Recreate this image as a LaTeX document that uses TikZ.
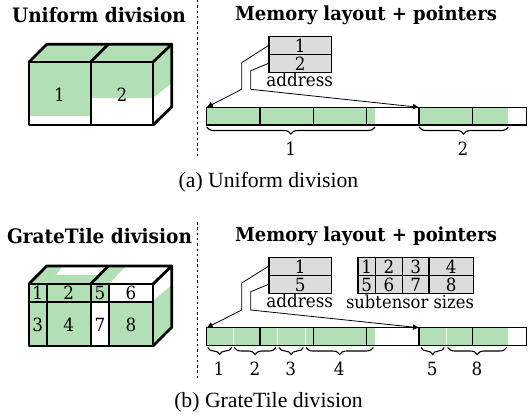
\documentclass[tikz,border=0pt]{standalone}
\usepackage{fontspec}
\setmainfont{Liberation Serif}
\newfontfamily\headfont{DejaVu Serif}[FakeStretch=0.93]
\newfontfamily\labfont{DejaVu Serif}[FakeStretch=0.92]
\usetikzlibrary{decorations.pathreplacing,arrows.meta,calc}
\definecolor{tilegreen}{HTML}{B3DFB5}
\definecolor{cellgray}{HTML}{DCDCDC}
\tikzset{
  x=1pt,y=-1pt,
  thick edge/.style={line width=2.8pt,line join=round,line cap=round},
  thin edge/.style={line width=1.7pt},
  mem edge/.style={line width=1.3pt},
  white tick/.style={white,line width=1pt},
  heading/.style={font=\headfont\bfseries\fontsize{19.9}{22}\selectfont,inner sep=0pt},
  memheading/.style={font=\headfont\bfseries\fontsize{19.3}{22}\selectfont,inner sep=0pt},
  lab/.style={font=\labfont\fontsize{18.2}{20}\selectfont,inner sep=0pt},
  sizelab/.style={font=\labfont\fontsize{17.8}{20}\selectfont,inner sep=0pt},
  caption/.style={font=\fontsize{21.7}{24}\selectfont,inner sep=0pt},
  sep line/.style={line width=1.5pt,dash pattern=on 2.5pt off 2.8pt},
  tcell/.style={draw,line width=1.2pt,fill=cellgray,inner sep=0pt,anchor=north west,font=\labfont\fontsize{18.2}{20}\selectfont},
  pointer/.style={line width=0.8pt,-{Latex[length=6pt,width=6pt]}},
  brace/.style={decorate,decoration={brace,mirror,amplitude=7pt},line width=1.1pt},
}
\newcommand{\tc}[6]{\node[tcell,minimum width=#4pt,minimum height=#5pt] (#1) at (#2,#3) {\raisebox{-6.6pt}[0pt][0pt]{#6}};}
\begin{document}
\begin{tikzpicture}
\useasboundingbox (0,0) rectangle (531,420);
% ===== (a)
\node[heading] (t1) at (99,15) {Uniform division};
\node[memheading] (t2) at (366,15) {Memory layout + pointers};
\coordinate (sa1) at (197.5,0); \coordinate (sa2) at (197.5,158);
\draw[sep line] (sa1) -- (sa2);
% cube a
\fill[tilegreen] (29,62) -- (46.7,44.3) -- (171.7,44.3) -- (153,62) -- cycle;
\fill[tilegreen] (29,62) rectangle (90.7,116);
\fill[tilegreen] (90.7,62) rectangle (153,98);
\fill[tilegreen] (153,62) -- (171.7,44.3) -- (171.7,83) -- (153,98) -- cycle;
\draw[thick edge] (29,62) rectangle (153,125);
\draw[thick edge] (29,62) -- (46.7,44.3) -- (171.7,44.3) -- (153,62);
\draw[thick edge] (171.7,44.3) -- (171.7,107) -- (153,125);
\draw[thick edge,line width=2.2pt] (90.7,62) -- (90.7,125);
\draw[thick edge] (90.7,62) -- (108.3,44.3);
\node[lab] (c1) at (59.5,95) {1};
\node[lab] (c2) at (122,95) {2};
% memory a
\fill[tilegreen] (206.7,107.3) rectangle (375,125);
\fill[tilegreen] (419,107.3) rectangle (508.3,125);
\draw[mem edge] (206.7,107.3) rectangle (526.7,125);
\foreach \x in {260,313.3,366.7,419,472.7} \draw[mem edge] (\x,107.3) -- (\x,125);
\coordinate (ma) at (206.7,107.3); \coordinate (mb) at (419,107.3);
\tc{aa}{268.3}{36}{62.7}{18}{1}
\tc{ab}{268.3}{54}{62.7}{17.7}{2}
\node[lab] (adra) at (299.7,80) {address};
\coordinate (p1) at (241.7,62.7); \coordinate (p2) at (241.7,89.3);
\coordinate (q1) at (250.7,70.7); \coordinate (q2) at (250.7,89.3);
\draw[pointer] (aa.west) -- (p1) -- (p2) -- (ma);
\draw[pointer] (ab.west) -- (q1) -- (q2) -- (mb);
\coordinate (ba1) at (206.7,127); \coordinate (ba2) at (375,127);
\coordinate (bb1) at (419,127); \coordinate (bb2) at (508.3,127);
\draw[brace] (ba1) -- (ba2);
\draw[brace] (bb1) -- (bb2);
\node[lab] (la) at (290.7,149) {1};
\node[lab] (lb) at (463,149) {2};
\node[caption] (capa) at (268.5,182) {(a) Uniform division};
% ===== (b)
\node[heading] (t3) at (99.5,236) {GrateTile division};
\node[memheading] (t4) at (366,236) {Memory layout + pointers};
\coordinate (sb1) at (197.5,222); \coordinate (sb2) at (197.5,378);
\draw[sep line] (sb1) -- (sb2);
% cube b
\fill[tilegreen] (29,284) -- (46.7,266) -- (63,266) -- (49,284) -- cycle;
\fill[tilegreen] (49,284) -- (56,275) -- (99.4,275) -- (90.7,284) -- cycle;
\fill[tilegreen] (90.7,284) -- (108.3,266) -- (126,266) -- (109,284) -- cycle;
\fill[tilegreen] (29,284) rectangle (109,301.7);
\fill[tilegreen] (29,301.7) rectangle (90.7,346);
\fill[tilegreen] (109,301.7) rectangle (153,346);
\fill[tilegreen] (153,301) -- (171.7,285) -- (171.7,327.3) -- (153,346) -- cycle;
\draw[thick edge] (29,284) rectangle (153,346);
\draw[thick edge] (29,284) -- (46.7,266) -- (171.7,266) -- (153,284);
\draw[thick edge] (171.7,266) -- (171.7,327.3) -- (153,346);
\draw[thick edge,line width=2.2pt] (90.7,284) -- (90.7,346);
\draw[thick edge] (90.7,284) -- (108.3,266);
\draw[thin edge] (46.7,284) -- (46.7,346);
\draw[thin edge] (109,284) -- (109,346);
\draw[thin edge] (29,301.7) -- (153,301.7);
\node[lab] (d1) at (37.8,293) {1};
\node[lab] (d2) at (68.7,293) {2};
\node[lab] (d5) at (100,293) {5};
\node[lab] (d6) at (131,293) {6};
\node[lab] (d3) at (37.8,325) {3};
\node[lab] (d4) at (68.7,325) {4};
\node[lab] (d7) at (100,325) {7};
\node[lab] (d8) at (131,325) {8};
% memory b
\fill[tilegreen] (206.7,327.7) rectangle (375,345.7);
\fill[tilegreen] (419,327.7) rectangle (508.3,345.7);
\foreach \x in {233.3,277.7,305,446.7} \draw[white tick] (\x,327.7) -- (\x,345.7);
\draw[mem edge] (206.7,327.7) rectangle (526.7,345.7);
\foreach \x in {260,313.3,366.7,419,472.7} \draw[mem edge] (\x,327.7) -- (\x,345.7);
\coordinate (mc) at (206.7,327.7); \coordinate (md) at (419,327.7);
\tc{ba}{268.3}{256.7}{62.7}{18.3}{1}
\tc{bb}{268.3}{275}{62.7}{17.7}{5}
\node[lab] (adrb) at (299.7,301) {address};
\tc{s1}{357.3}{256.7}{17.7}{18.3}{1}
\tc{s2}{375}{256.7}{26.7}{18.3}{2}
\tc{s3}{401.7}{256.7}{26.6}{18.3}{3}
\tc{s4}{428.3}{256.7}{44.4}{18.3}{4}
\tc{s5}{357.3}{275}{17.7}{17.7}{5}
\tc{s6}{375}{275}{26.7}{17.7}{6}
\tc{s7}{401.7}{275}{26.6}{17.7}{7}
\tc{s8}{428.3}{275}{44.4}{17.7}{8}
\node[sizelab] (sz) at (410,301.5) {subtensor sizes};
\coordinate (r1) at (241.7,283); \coordinate (r2) at (241.7,310);
\coordinate (u1) at (250.7,291.7); \coordinate (u2) at (250.7,310);
\draw[pointer] (ba.west) -- (r1) -- (r2) -- (mc);
\draw[pointer] (bb.west) -- (u1) -- (u2) -- (md);
\foreach \a/\b/\n in {207.7/231.7/b1,234.3/276/b2,279/303.3/b3,306/373.3/b4,421/444.3/b5,447.7/506.7/b8}{
  \coordinate (\n l) at (\a,347.5); \coordinate (\n r) at (\b,347.5);
  \draw[brace] (\n l) -- (\n r);
}
\node[lab] (l1) at (219,369) {1};
\node[lab] (l2) at (255,369) {2};
\node[lab] (l3) at (290.7,369) {3};
\node[lab] (l4) at (339.3,369) {4};
\node[lab] (l5) at (432.3,369) {5};
\node[lab] (l8) at (477,369) {8};
\node[caption] (capb) at (268.5,402) {(b) GrateTile division};
\end{tikzpicture}
\end{document}
